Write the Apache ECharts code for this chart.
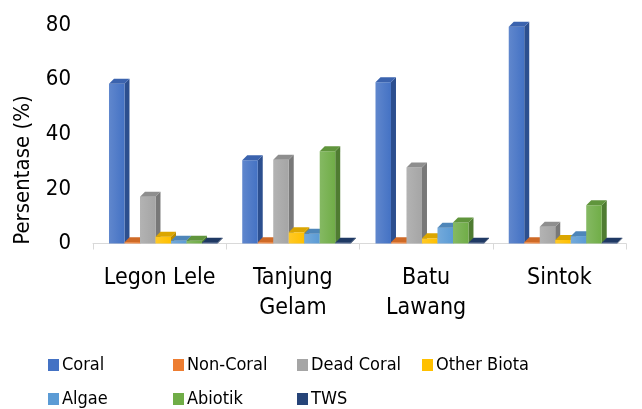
<!DOCTYPE html>
<html>
<head>
<meta charset="utf-8">
<script src="https://cdn.jsdelivr.net/npm/echarts@6/dist/echarts.min.js"></script>
<style>
  html, body { margin: 0; padding: 0; background: #fff; }
  #chart { width: 642px; height: 409px; }
</style>
</head>
<body>
<div id="chart"></div>
<script>
// Sites along the x axis
const sites = ['Legon Lele', 'Tanjung\nGelam', 'Batu\nLawang', 'Sintok'];

// Cover percentage per category at each site
const coral      = [58.5, 30.5, 59.0, 79.4];
const nonCoral   = [0.5, 0.5, 0.5, 0.5];
const deadCoral  = [17.1, 30.7, 27.8, 6.1];
const otherBiota = [2.5, 4.1, 1.9, 1.3];
const algae      = [1.0, 3.6, 5.8, 2.7];
const abiotik    = [1.0, 33.8, 7.7, 14.0];
const tws        = [0.3, 0.3, 0.3, 0.3];

const yTicks = { min: 0, max: 80, interval: 20 };

// name, values, front colour, side colour, top colour
const groups = [
  ['Coral',       coral,      '#4472C4', '#2C4F8F', '#3B63AE'],
  ['Non-Coral',   nonCoral,   '#ED7D31', '#A9561F', '#CF6A27'],
  ['Dead Coral',  deadCoral,  '#A5A5A5', '#787878', '#8E8E8E'],
  ['Other Biota', otherBiota, '#FFC000', '#B88B00', '#DBA600'],
  ['Algae',       algae,      '#5B9BD5', '#3F6F9B', '#4E86B9'],
  ['Abiotik',     abiotik,    '#70AD47', '#4F7C31', '#60953C'],
  ['TWS',         tws,        '#264478', '#182D50', '#1F3964']
];

const DX = 5, DY = 5;          // depth of the pseudo-3D boxes
const SLOT = 0.1163;           // share of a category band per bar
const LEAD = 0.12;             // space before the first bar in a band

function lighten(hex, k) {
  const n = parseInt(hex.slice(1), 16);
  const r = (n >> 16) & 255, g = (n >> 8) & 255, b = n & 255;
  const f = c => Math.round(c + (255 - c) * k);
  return 'rgb(' + f(r) + ',' + f(g) + ',' + f(b) + ')';
}

function boxRenderer(front, side, top) {
  return function (params, api) {
    const ci = api.value(0), v = api.value(1);
    const s = params.seriesIndex;
    const band = api.size([1, 0])[0];
    const p0 = api.coord([ci, 0]);
    const p1 = api.coord([ci, v]);
    const w = band * SLOT;
    const x = p0[0] - band / 2 + band * LEAD + s * w;
    const yb = p0[1], yt = p1[1];
    return {
      type: 'group',
      children: [
        {
          type: 'polygon',
          shape: { points: [[x + w, yt], [x + w + DX, yt - DY], [x + w + DX, yb - DY], [x + w, yb]] },
          style: { fill: side }
        },
        {
          type: 'rect',
          shape: { x: x, y: yt, width: w, height: yb - yt },
          style: {
            fill: new echarts.graphic.LinearGradient(0, 0, 1, 0, [
              { offset: 0, color: lighten(front, 0.15) },
              { offset: 1, color: front }
            ])
          }
        },
        {
          type: 'polygon',
          shape: { points: [[x, yt], [x + w, yt], [x + w + DX, yt - DY], [x + DX, yt - DY]] },
          style: { fill: top }
        }
      ]
    };
  };
}

const series = groups.map(g => ({
  name: g[0],
  type: 'custom',
  renderItem: boxRenderer(g[2], g[3], g[4]),
  itemStyle: { color: g[2] },
  encode: { x: 0, y: 1 },
  clip: false,
  data: g[1].map((v, i) => [i, v])
}));

// Legend laid out as a grid: two rows, four columns
const legendCols = [48, 173, 297, 422];
const legendRows = [356, 390];
const legends = groups.map((g, i) => ({
  data: [g[0]],
  left: legendCols[i % 4],
  top: legendRows[Math.floor(i / 4)],
  padding: 0,
  itemWidth: 11,
  itemHeight: 12,
  itemGap: 0,
  icon: 'rect',
  selectedMode: false,
  textStyle: {
    fontFamily: '"DejaVu Sans Condensed", "DejaVu Sans", sans-serif',
    fontSize: 18,
    color: '#000',
    padding: [0, 0, 0, -2]
  }
}));

const chart = echarts.init(document.getElementById('chart'), null, { renderer: 'canvas' });
chart.setOption({
  animation: false,
  backgroundColor: '#fff',
  grid: { left: 93, right: 16, top: 25, bottom: 165.5 },
  xAxis: {
    type: 'category',
    data: sites,
    axisLine: { lineStyle: { color: '#D9D9D9', width: 1 } },
    axisTick: { show: true, length: 6, lineStyle: { color: '#D9D9D9' } },
    axisLabel: {
      interval: 0,
      margin: 20,
      color: '#000',
      fontFamily: '"DejaVu Sans Condensed", "DejaVu Sans", sans-serif',
      fontSize: 23,
      lineHeight: 30
    }
  },
  yAxis: {
    type: 'value',
    min: yTicks.min,
    max: yTicks.max,
    interval: yTicks.interval,
    axisLine: { show: false },
    axisTick: { show: false },
    splitLine: { show: false },
    axisLabel: {
      margin: 22,
      color: '#000',
      fontFamily: '"DejaVu Sans Condensed", "DejaVu Sans", sans-serif',
      fontSize: 22
    }
  },
  graphic: [{
    type: 'text',
    x: 23,
    y: 170,
    rotation: Math.PI / 2,
    style: {
      text: 'Persentase (%)',
      fill: '#000',
      font: '22px "DejaVu Sans Condensed", "DejaVu Sans", sans-serif',
      align: 'center',
      verticalAlign: 'middle'
    }
  }],
  legend: legends,
  series: series
});
</script>
</body>
</html>
